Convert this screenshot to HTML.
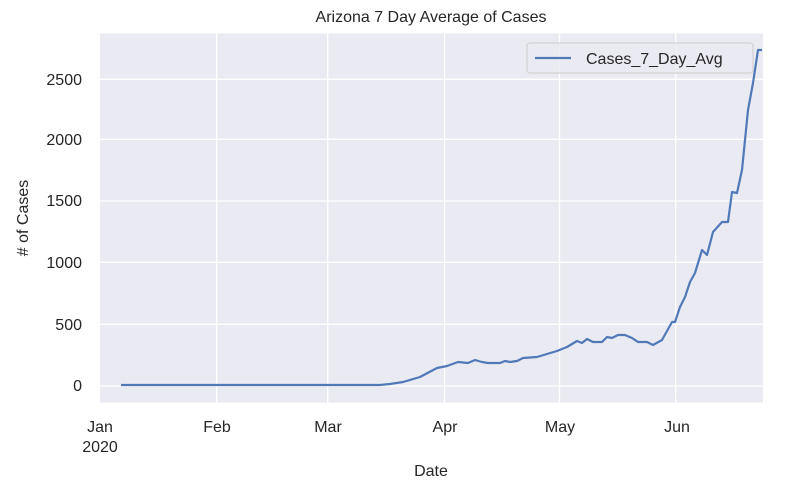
<!DOCTYPE html>
<html><head><meta charset="utf-8"><style>html,body{margin:0;padding:0;background:#fff}svg{display:block}text{font-family:"Liberation Sans",sans-serif;fill:#262626}</style></head>
<body>
<svg width="794" height="492" viewBox="0 0 794 492">
<rect x="100" y="33.5" width="663" height="369" fill="#eaeaf2"/>
<g stroke="#fff" stroke-width="1.3">
<line x1="100" x2="763" y1="79.3" y2="79.3"/><line x1="100" x2="763" y1="139.3" y2="139.3"/><line x1="100" x2="763" y1="201" y2="201"/><line x1="100" x2="763" y1="262.3" y2="262.3"/><line x1="100" x2="763" y1="324.3" y2="324.3"/><line x1="100" x2="763" y1="386" y2="386"/>
<line y1="33.5" y2="402.5" x1="216.7" x2="216.7"/><line y1="33.5" y2="402.5" x1="327.7" x2="327.7"/><line y1="33.5" y2="402.5" x1="444.5" x2="444.5"/><line y1="33.5" y2="402.5" x1="559.5" x2="559.5"/><line y1="33.5" y2="402.5" x1="675.7" x2="675.7"/>
</g>
<polyline fill="none" stroke="#5079b8" stroke-width="2.2" stroke-linejoin="round" points="121,385 380,385 390,384 403,382 420,377 437,368 447,366 458,362 468,363 475,360 482,362 488,363 500,363 505,361 510,362 517,361 523,358 537,357 547,354 557,351 567,347 577,341 582,343 587,339 593,342 602,342 607,337 612,338 618,335 625,335 632,338 638,342 647,342 653,345 662,340 672,322 675,322 680,307 685,297 690,282 695,273 702,250 707,255 713,232 722,222 728,222 732,192 737,193 742,170 745,140 748,110 753,83 758,50 762,50"/>
<rect x="527" y="43" width="226" height="30" rx="3" fill="#eaeaf2" fill-opacity="0.8" stroke="#ccc"/>
<line x1="535" x2="571" y1="58" y2="58" stroke="#5079b8" stroke-width="2.2"/>
<text x="586" y="64" font-size="16">Cases_7_Day_Avg</text>
<text x="431" y="22" font-size="16" text-anchor="middle">Arizona 7 Day Average of Cases</text>
<g font-size="16" text-anchor="end">
<text x="82" y="85">2500</text><text x="82" y="145">2000</text><text x="82" y="206">1500</text><text x="82" y="268">1000</text><text x="82" y="330">500</text><text x="82" y="391">0</text>
</g>
<g font-size="16" text-anchor="middle">
<text x="100" y="432">Jan</text><text x="100" y="452">2020</text>
<text x="217" y="432">Feb</text><text x="328" y="432">Mar</text><text x="445" y="432">Apr</text><text x="560" y="432">May</text><text x="677" y="432">Jun</text>
<text x="431" y="476">Date</text>
</g>
<text transform="translate(28,218) rotate(-90)" font-size="16" text-anchor="middle"># of Cases</text>
</svg>
</body></html>
